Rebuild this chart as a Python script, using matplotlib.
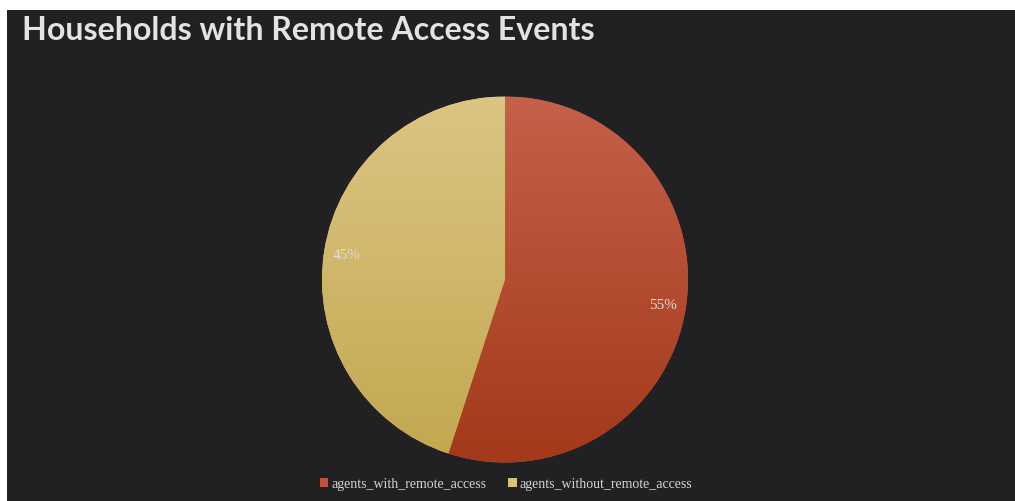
import matplotlib
matplotlib.use("Agg")
import matplotlib.pyplot as plt
import numpy as np
from matplotlib.patches import Rectangle, Patch
from matplotlib.colors import LinearSegmentedColormap

title = "Households with Remote Access Events"
categories = ["agents_with_remote_access", "agents_without_remote_access"]
values = [55, 45]
top_colors = ["#C5604A", "#DBC583"]
bottom_colors = ["#A3391A", "#C3A74F"]
legend_colors = ["#C0533A", "#D8C27E"]

W, H = 1015, 502
fig = plt.figure(figsize=(W / 100, H / 100), dpi=100, facecolor="white")
fig.patches.append(Rectangle((7 / W, 0), (W - 7) / W, (H - 11) / H,
                             transform=fig.transFigure, facecolor="#212123",
                             edgecolor="none", zorder=-5))

ax = fig.add_axes([0, 0, 1, 1], zorder=2)
ax.patch.set_alpha(0)

cx, cy, r = 505, H - 280.5, 183
wedges, texts, autotexts = ax.pie(
    values, center=(cx, cy), radius=r, startangle=90, counterclock=False,
    colors=top_colors, autopct="%1.0f%%", pctdistance=0.875,
    textprops=dict(color="#E2DCD8", fontsize=11, family="Liberation Serif"),
    wedgeprops=dict(linewidth=0), frame=True)
ax.set_xlim(0, W)
ax.set_ylim(0, H)
ax.set_aspect("equal")
ax.axis("off")

grad = np.linspace(0, 1, 256).reshape(-1, 1)
for w, ct, cb in zip(wedges, top_colors, bottom_colors):
    cmap = LinearSegmentedColormap.from_list("g", [ct, cb])
    im = ax.imshow(grad, cmap=cmap, extent=(cx - r, cx + r, cy - r, cy + r),
                   origin="upper", aspect="auto", zorder=1.5)
    im.set_clip_path(w)
for t in autotexts:
    t.set_zorder(3)
ax.set_xlim(0, W)
ax.set_ylim(0, H)

fig.text(22 / W, 1 - 31 / H, title, fontsize=23.1, fontweight="bold",
         family="Lato", color="#E3E3E3", va="center", ha="left", zorder=5)

handles = [Patch(facecolor=c, edgecolor="none") for c in legend_colors]
leg = fig.legend(handles, categories, loc="center",
                 bbox_to_anchor=(506 / W, 1 - 485 / H), ncol=2, frameon=False,
                 handlelength=0.6, handleheight=0.6, handletextpad=0.2,
                 columnspacing=1.6,
                 prop=dict(family="Liberation Serif", size=10))
for t in leg.get_texts():
    t.set_color("#D4D4D4")

fig.savefig("out.png", dpi=100, facecolor="white")
